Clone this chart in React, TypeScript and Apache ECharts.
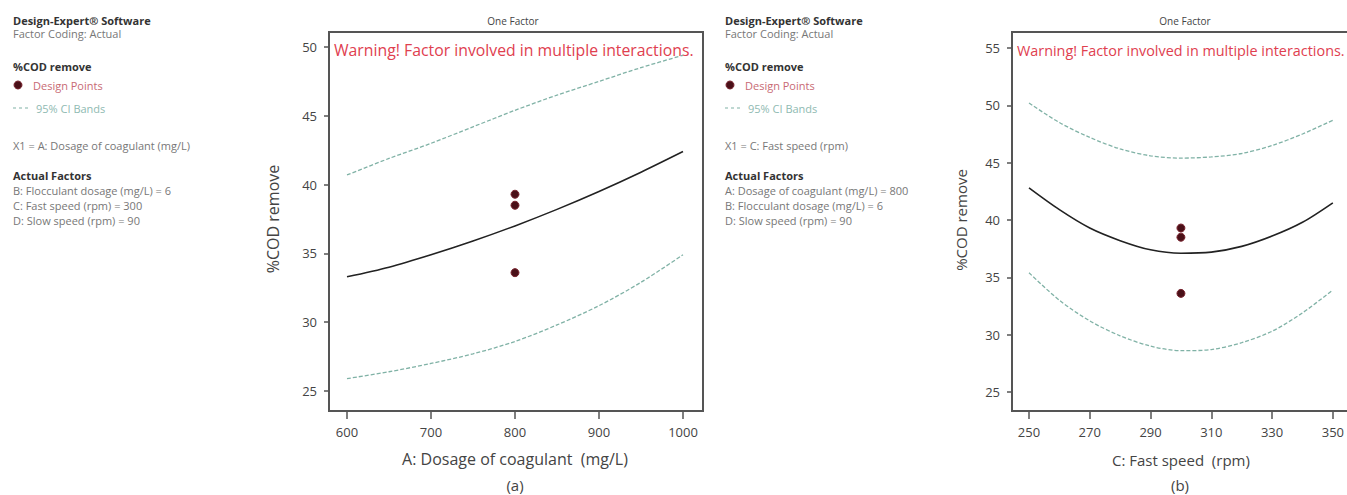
import React, { useEffect, useRef } from "react";
import * as echarts from "echarts";

// ---- Panel (a): A: Dosage of coagulant ----
const aX = [600, 650, 700, 750, 800, 850, 900, 950, 1000];
const aMean = [33.3, 34.0, 34.9, 35.9, 37.0, 38.2, 39.5, 40.9, 42.4];
const aUpper = [40.7, 41.9, 43.0, 44.2, 45.4, 46.5, 47.5, 48.5, 49.4];
const aLower = [25.9, 26.4, 27.0, 27.7, 28.6, 29.8, 31.2, 32.9, 34.9];
const aPointX = [800, 800, 800];
const aPointY = [39.3, 38.5, 33.6];

// ---- Panel (b): C: Fast speed ----
const bX = [250, 260, 270, 280, 290, 300, 310, 320, 330, 340, 350];
const bMean = [42.8, 40.9, 39.3, 38.2, 37.4, 37.1, 37.2, 37.7, 38.6, 39.8, 41.5];
const bUpper = [50.2, 48.5, 47.2, 46.2, 45.6, 45.4, 45.5, 45.8, 46.5, 47.5, 48.7];
const bLower = [35.4, 33.0, 31.2, 29.9, 29.0, 28.6, 28.7, 29.3, 30.3, 31.9, 33.9];
const bPointX = [300, 300, 300];
const bPointY = [39.3, 38.5, 33.6];

// ---- Text ----
const sideA = [
  "X1 = A: Dosage of coagulant (mg/L)",
  "B: Flocculant dosage (mg/L) = 6",
  "C: Fast speed (rpm) = 300",
  "D: Slow speed (rpm) = 90",
];
const sideB = [
  "X1 = C: Fast speed (rpm)",
  "A: Dosage of coagulant (mg/L) = 800",
  "B: Flocculant dosage (mg/L) = 6",
  "D: Slow speed (rpm) = 90",
];
const warning = "Warning! Factor involved in multiple interactions.";

const FONT = "'Open Sans', 'Noto Sans', sans-serif";
const CI_COLOR = "#80b2a6";
const PT_COLOR = "#4a1018";

const zip = (xs: number[], ys: number[]) => xs.map((x, i) => [x, ys[i]]);

function txt(text: string, x: number, y: number, size: number, fill: string, opts: any = {}) {
  return {
    type: "text",
    silent: true,
    style: {
      text,
      x,
      y,
      font: `${opts.bold ? "bold " : ""}${size}px ${FONT}`,
      fill,
      textAlign: opts.align || "left",
      align: opts.align || "left",
      textVerticalAlign: "middle",
      verticalAlign: "middle",
    },
  };
}

function sidePanel(x0: number, lines: string[]) {
  const fs = 11;
  return [
    txt("Design-Expert® Software", x0, 20, fs, "#333", { bold: true }),
    txt("Factor Coding: Actual", x0, 33, fs, "#777"),
    txt("%COD remove", x0, 66, fs, "#333", { bold: true }),
    {
      type: "circle",
      silent: true,
      shape: { cx: x0 + 5, cy: 85, r: 4 },
      style: { fill: PT_COLOR, stroke: "#7a2530", lineWidth: 1 },
    },
    txt("Design Points", x0 + 20, 85, fs, "#c86a74"),
    {
      type: "line",
      silent: true,
      shape: { x1: x0, y1: 108, x2: x0 + 16, y2: 108 },
      style: { stroke: CI_COLOR, lineWidth: 1.2, lineDash: [3, 3] },
    },
    txt("95% CI Bands", x0 + 23, 108, fs, "#8fbab2"),
    txt(lines[0], x0, 145, fs, "#777"),
    txt("Actual Factors", x0, 175, fs, "#333", { bold: true }),
    txt(lines[1], x0, 190, fs, "#777"),
    txt(lines[2], x0, 205, fs, "#777"),
    txt(lines[3], x0, 220, fs, "#777"),
  ];
}

function lineSeries(name: string, idx: number, data: number[][], dashed: boolean) {
  return {
    name,
    type: "line",
    xAxisIndex: idx,
    yAxisIndex: idx,
    data,
    smooth: 0.3,
    showSymbol: false,
    silent: true,
    lineStyle: dashed
      ? { color: CI_COLOR, width: 1.3, type: [4, 2] }
      : { color: "#222", width: 1.6 },
    z: 3,
  };
}

function pointSeries(name: string, idx: number, data: number[][]) {
  return {
    name,
    type: "scatter",
    xAxisIndex: idx,
    yAxisIndex: idx,
    data,
    symbolSize: 8,
    itemStyle: { color: PT_COLOR, borderColor: "#7a2530", borderWidth: 1, opacity: 1 },
    z: 4,
  };
}

const axisLabelStyle = {
  color: "#444",
  fontSize: 13,
  fontFamily: FONT,
  formatter: (v: number) => String(v),
};

export default function App() {
  const ref = useRef<HTMLDivElement>(null);

  useEffect(() => {
    if (!ref.current) return;
    const chart = echarts.init(ref.current, undefined, { renderer: "svg" });
    const option: any = {
      animation: false,
      backgroundColor: "#ffffff",
      grid: [
        { left: 347, top: 47, width: 336, height: 344 },
        { left: 1029, top: 48, width: 304, height: 344 },
      ],
      xAxis: [
        {
          type: "value",
          gridIndex: 0,
          min: 600,
          max: 1000,
          interval: 100,
          offset: 20,
          axisLine: { show: false },
          axisTick: { show: true, length: 8, lineStyle: { color: "#555", width: 1.5 } },
          axisLabel: { ...axisLabelStyle, margin: 14 },
          splitLine: { show: false },
          name: "A: Dosage of coagulant  (mg/L)",
          nameLocation: "middle",
          nameGap: 40,
          nameTextStyle: { color: "#444", fontSize: 16, fontFamily: FONT },
        },
        {
          type: "value",
          gridIndex: 1,
          min: 250,
          max: 350,
          interval: 20,
          offset: 19,
          axisLine: { show: false },
          axisTick: { show: true, length: 8, lineStyle: { color: "#555", width: 1.5 } },
          axisLabel: { ...axisLabelStyle, margin: 14 },
          splitLine: { show: false },
          name: "C: Fast speed  (rpm)",
          nameLocation: "middle",
          nameGap: 41,
          nameTextStyle: { color: "#444", fontSize: 15, fontFamily: FONT },
        },
      ],
      yAxis: [
        {
          type: "value",
          gridIndex: 0,
          min: 25,
          max: 50,
          interval: 5,
          offset: 18,
          axisLine: { show: false },
          axisTick: { show: true, length: 5, lineStyle: { color: "#555", width: 1.5 } },
          axisLabel: { ...axisLabelStyle, margin: 12 },
          splitLine: { show: false },
          name: "%COD remove",
          nameLocation: "middle",
          nameGap: 48,
          nameTextStyle: { color: "#444", fontSize: 16, fontFamily: FONT },
        },
        {
          type: "value",
          gridIndex: 1,
          min: 25,
          max: 55,
          interval: 5,
          offset: 17,
          axisLine: { show: false },
          axisTick: { show: true, length: 5, lineStyle: { color: "#555", width: 1.5 } },
          axisLabel: { ...axisLabelStyle, margin: 12 },
          splitLine: { show: false },
          name: "%COD remove",
          nameLocation: "middle",
          nameGap: 44,
          nameTextStyle: { color: "#444", fontSize: 15, fontFamily: FONT },
        },
      ],
      series: [
        lineSeries("Upper 95% CI (a)", 0, zip(aX, aUpper), true),
        lineSeries("Lower 95% CI (a)", 0, zip(aX, aLower), true),
        lineSeries("Prediction (a)", 0, zip(aX, aMean), false),
        pointSeries("Design Points (a)", 0, zip(aPointX, aPointY)),
        lineSeries("Upper 95% CI (b)", 1, zip(bX, bUpper), true),
        lineSeries("Lower 95% CI (b)", 1, zip(bX, bLower), true),
        lineSeries("Prediction (b)", 1, zip(bX, bMean), false),
        pointSeries("Design Points (b)", 1, zip(bPointX, bPointY)),
      ],
      graphic: [
        ...sidePanel(13, sideA),
        ...sidePanel(725, sideB),
        {
          type: "rect",
          silent: true,
          shape: { x: 329, y: 32, width: 374, height: 379 },
          style: { fill: "none", stroke: "#555", lineWidth: 2 },
          z: 10,
        },
        {
          type: "rect",
          silent: true,
          shape: { x: 1012, y: 32, width: 360, height: 379 },
          style: { fill: "none", stroke: "#555", lineWidth: 2 },
          z: 10,
        },
        txt("One Factor", 513, 21, 10, "#444", { align: "center" }),
        txt("One Factor", 1185, 21, 10, "#444", { align: "center" }),
        txt(warning, 334, 50, 15.8, "#e0404f"),
        txt(warning, 1017, 50, 14.4, "#e0404f"),
        txt("(a)", 515, 485, 15, "#444", { align: "center" }),
        txt("(b)", 1180, 485, 15, "#444", { align: "center" }),
      ],
    };
    chart.setOption(option);
    return () => chart.dispose();
  }, []);

  return (
    <div
      ref={ref}
      style={{ position: "absolute", left: 0, top: 0, width: 1347, height: 495 }}
    />
  );
}
